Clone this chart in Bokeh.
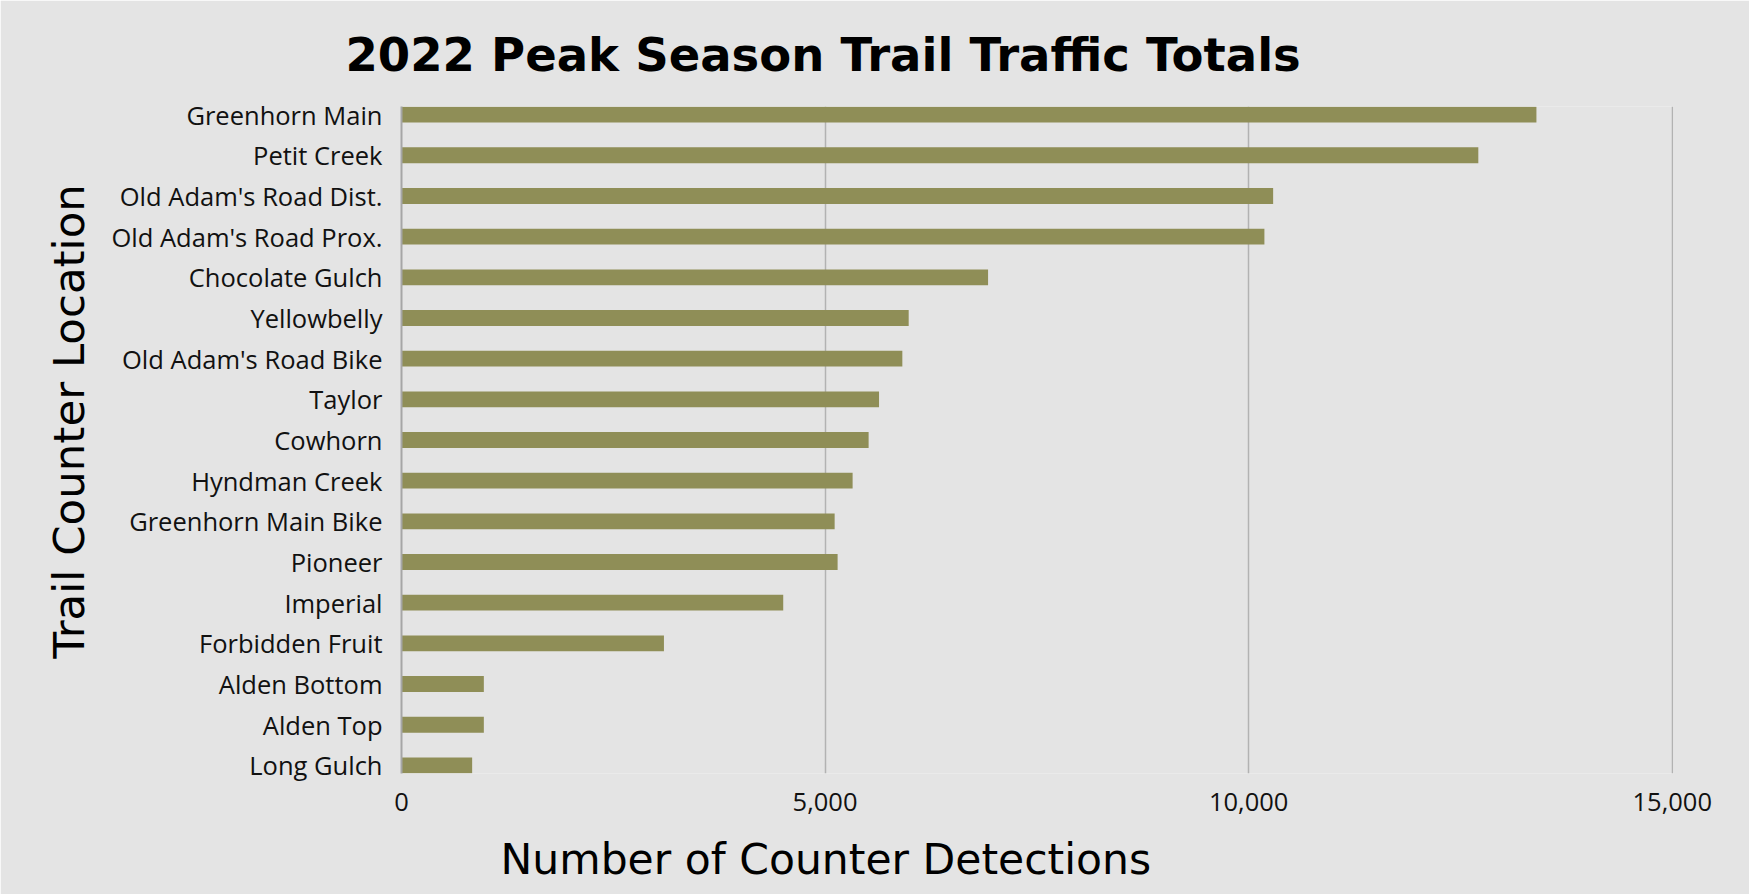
import math
from bokeh.plotting import figure
from bokeh.models import Range1d, FixedTicker, Title, NumeralTickFormatter
from bokeh.embed import file_html
from bokeh.resources import INLINE

# ---- data (top to bottom) ----
locations = [
    "Greenhorn Main", "Petit Creek", "Old Adam's Road Dist.", "Old Adam's Road Prox.",
    "Chocolate Gulch", "Yellowbelly", "Old Adam's Road Bike", "Taylor", "Cowhorn",
    "Hyndman Creek", "Greenhorn Main Bike", "Pioneer", "Imperial", "Forbidden Fruit",
    "Alden Bottom", "Alden Top", "Long Gulch",
]
detections = [
    13397, 12711, 10289, 10186, 6924, 5987, 5912, 5637, 5514,
    5325, 5113, 5148, 4506, 3098, 972, 972, 834,
]
x_ticks = [0, 5000, 10000, 15000]

title_text = "2022 Peak Season Trail Traffic Totals"
x_title = "Number of Counter Detections"
y_title = "Trail Counter Location"

BG = "#e4e4e4"
BAR = "#8f8e57"

positions = list(range(len(locations)))

p = figure(
    width=1749, height=894,
    x_range=Range1d(0, 15015),
    y_range=Range1d(len(locations) - 1 + 0.2, -0.2),
    output_backend="svg", toolbar_location=None,
    min_border_left=401, min_border_right=76,
    min_border_top=106, min_border_bottom=121,
)
p.background_fill_color = BG
p.border_fill_color = BG
p.outline_line_color = None

p.hbar(y=positions, right=detections, left=0, height=0.39,
       fill_color=BAR, line_color=None)

# x axis
p.xaxis.ticker = FixedTicker(ticks=x_ticks)
p.xaxis.formatter = NumeralTickFormatter(format="0,0")
p.xaxis.axis_line_color = None
p.xaxis.major_tick_line_color = None
p.xaxis.minor_tick_line_color = None
p.xaxis.major_tick_out = 0
p.xaxis.major_label_standoff = 19
p.xaxis.major_label_text_font = "Open Sans"
p.xaxis.major_label_text_font_size = "25.5px"
p.xaxis.major_label_text_color = "#111111"
# small invisible spacer between tick labels and the axis title
p.xaxis.axis_label = " "
p.xaxis.axis_label_standoff = 0
p.xaxis.axis_label_text_font_size = "7px"

# y axis
p.yaxis.ticker = FixedTicker(ticks=positions)
p.yaxis.major_label_overrides = {i: name for i, name in enumerate(locations)}
p.yaxis.axis_line_color = "#a6a6a6"
p.yaxis.axis_line_width = 2
p.yaxis.major_tick_line_color = None
p.yaxis.minor_tick_line_color = None
p.yaxis.major_tick_out = 0
p.yaxis.major_label_standoff = 19
p.yaxis.major_label_text_font = "Open Sans"
p.yaxis.major_label_text_font_size = "25.5px"
p.yaxis.major_label_text_color = "#111111"

# grid
p.ygrid.grid_line_color = None
p.xgrid.grid_line_color = "#b2b2b2"
p.xgrid.grid_line_width = 1.5

# main title
p.title.text = title_text
p.title.align = "left"
p.title.offset = -56
p.title.standoff = 50
p.title.text_font = "DejaVu Sans"
p.title.text_font_style = "bold"
p.title.text_font_size = "46.5px"
p.title.text_color = "#000000"

# axis titles
p.add_layout(Title(text=x_title, align="left", offset=99, standoff=18,
                   text_font="DejaVu Sans", text_font_style="normal",
                   text_font_size="42.5px", text_color="#000000"), "below")
p.add_layout(Title(text=y_title, align="left", offset=115, standoff=30,
                   text_font="DejaVu Sans", text_font_style="normal",
                   text_font_size="43.5px", text_color="#000000"), "left")

open("out.html", "w").write(file_html(p, INLINE))
